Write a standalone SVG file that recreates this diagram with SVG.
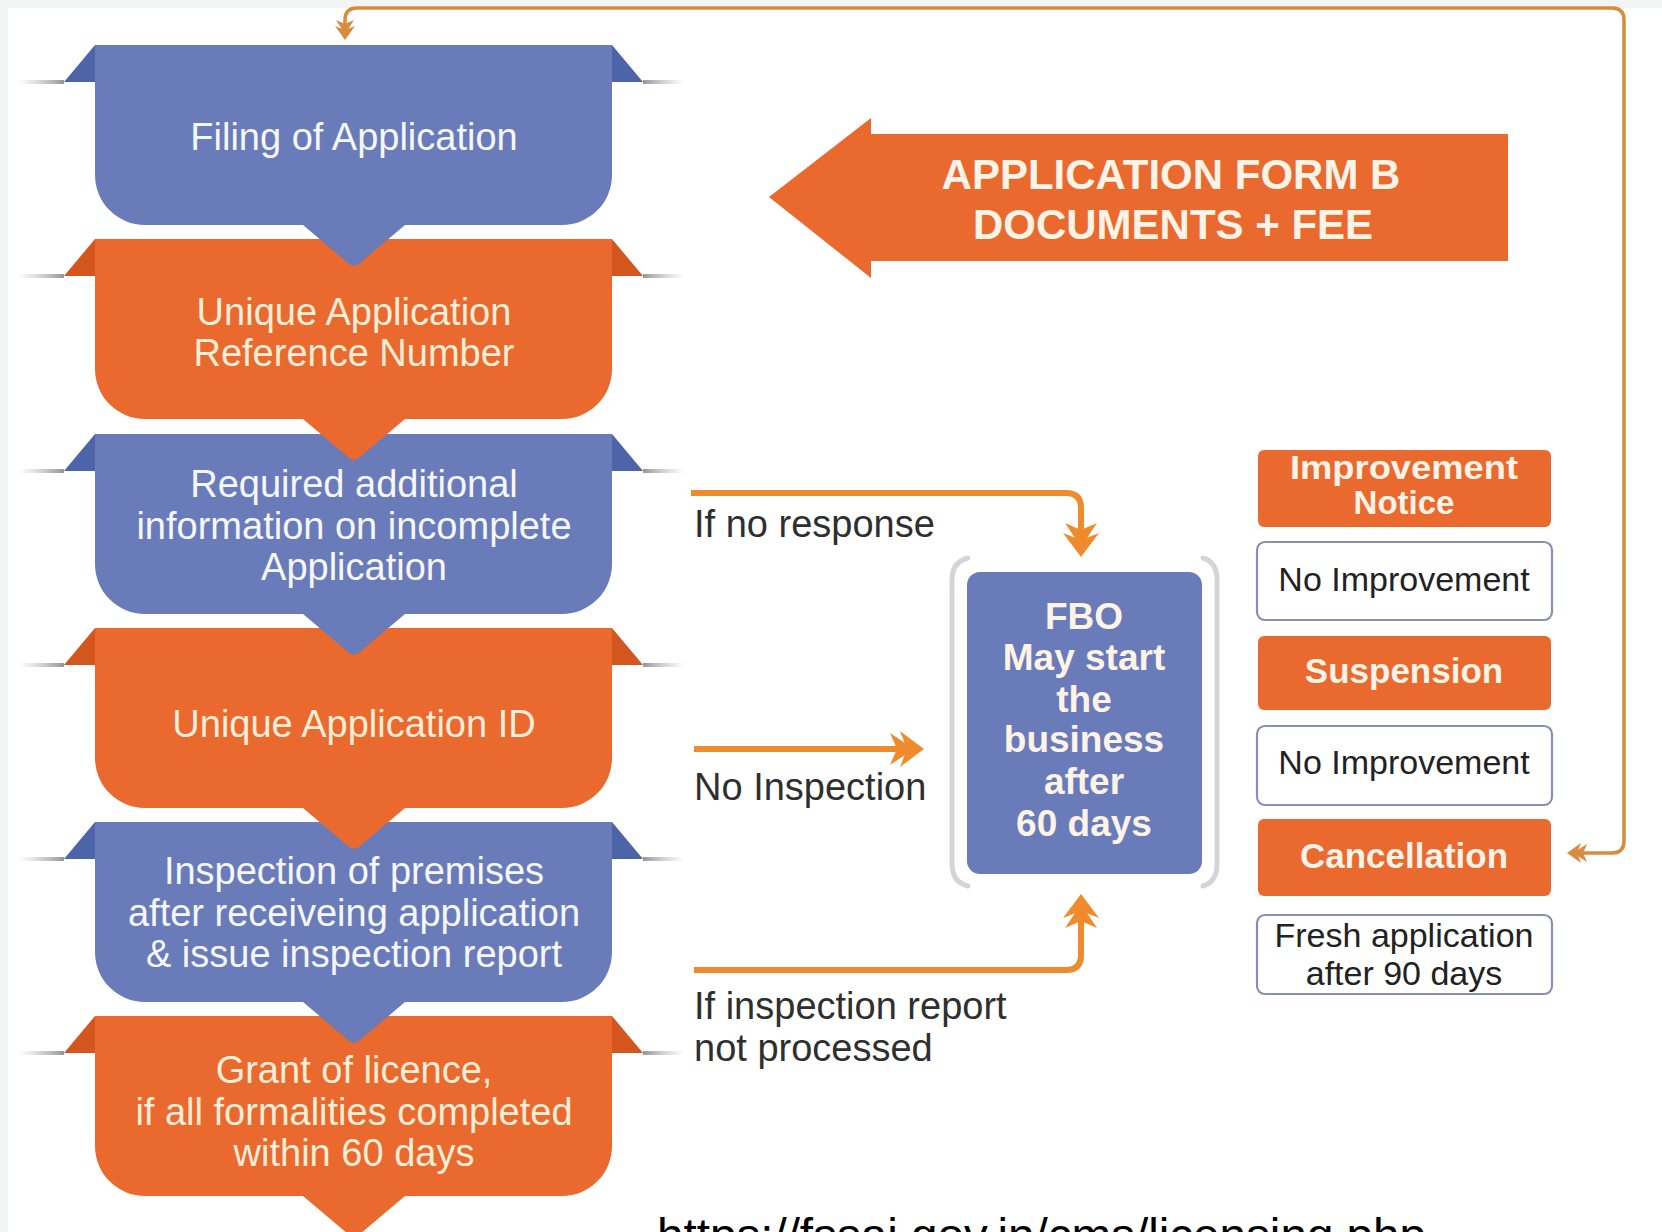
<svg xmlns="http://www.w3.org/2000/svg" xmlns:xlink="http://www.w3.org/1999/xlink" width="1662" height="1232" viewBox="0 0 1662 1232">
<style>
.bf{fill:#6a7bb9}.be{fill:#4e64a8}
.of{fill:#ea692e}.oe{fill:#d4561f}
.tb{font-family:"Liberation Sans",Arial,sans-serif;font-size:38px;fill:#f5f7fc;text-anchor:middle}
.to{font-family:"Liberation Sans",Arial,sans-serif;font-size:38px;fill:#fdeed8;text-anchor:middle}
.lbl{font-family:"Liberation Sans",Arial,sans-serif;font-size:38px;fill:#2f2f2f}
.bold{font-family:"Liberation Sans",Arial,sans-serif;font-weight:bold;fill:#fdf3e6;text-anchor:middle}
.box{fill:#ffffff;stroke:#8790b3;stroke-width:2.2}
.ob{fill:#ea692e}
.bt{font-family:"Liberation Sans",Arial,sans-serif;font-size:34px;fill:#222;text-anchor:middle}
.con{fill:none;stroke:#ef8b2d;stroke-width:6}
.loop{fill:none;stroke:#d88c3f;stroke-width:3.5}
.brk{fill:none;stroke:#d3d5da;stroke-width:5;stroke-linecap:round}
</style>
<defs>
<linearGradient id="shL" x1="0" x2="1" y1="0" y2="0"><stop offset="0" stop-color="#b0b0b0" stop-opacity="0"/><stop offset="1" stop-color="#8a8a8a" stop-opacity="0.9"/></linearGradient>
<linearGradient id="shR" x1="0" x2="1" y1="0" y2="0"><stop offset="0" stop-color="#8a8a8a" stop-opacity="0.9"/><stop offset="1" stop-color="#b0b0b0" stop-opacity="0"/></linearGradient>
<path id="body" d="M95,0 H612 V130 A50,50 0 0 1 562,180 H405 L360,218 Q354,224 348,218 L303,180 H145 A50,50 0 0 1 95,130 Z"/>
<path id="earL" d="M95,0 L64,37 H95 Z"/>
<path id="earR" d="M612,0 L643,37 H612 Z"/>
<g id="shadows"><rect x="18" y="35" width="46" height="4" fill="url(#shL)"/><rect x="643" y="35" width="42" height="4" fill="url(#shR)"/></g>
<marker id="arrL" markerUnits="userSpaceOnUse" viewBox="-36 -20 38 40" refX="-12" refY="0" markerWidth="38" markerHeight="40" orient="auto">
<path d="M-10,0 L-34,-16 L-27,0 L-34,16 Z" fill="#ef8b2d"/>
<path d="M0,0 L-24,-18 L-17,0 L-24,18 Z" fill="#ef8b2d"/>
</marker>
<marker id="arrS" markerUnits="userSpaceOnUse" viewBox="-24 -12 26 24" refX="-6" refY="0" markerWidth="26" markerHeight="24" orient="auto-start-reverse">
<path d="M-6,0 L-20,-9 L-16,0 L-20,9 Z" fill="#d88c3f"/>
<path d="M0,0 L-14,-10 L-10,0 L-14,10 Z" fill="#d88c3f"/>
</marker>
</defs>
<rect x="0" y="0" width="1662" height="1232" fill="#f3f4f6"/>
<rect x="8" y="8" width="1654" height="1224" fill="#ffffff"/>

<g id="step6" transform="translate(0,1016)">
<use href="#shadows"/><use href="#earL" class="oe"/><use href="#earR" class="oe"/><use href="#body" class="of"/>
<text class="to" x="354" y="67">Grant of licence,</text>
<text class="to" x="354" y="109">if all formalities completed</text>
<text class="to" x="354" y="150">within 60 days</text>
</g>
<g id="step5" transform="translate(0,822)">
<use href="#shadows"/><use href="#earL" class="be"/><use href="#earR" class="be"/><use href="#body" class="bf"/>
<text class="tb" x="354" y="62">Inspection of premises</text>
<text class="tb" x="354" y="104">after receiveing application</text>
<text class="tb" x="354" y="145">&amp; issue inspection report</text>
</g>
<g id="step4" transform="translate(0,628)">
<use href="#shadows"/><use href="#earL" class="oe"/><use href="#earR" class="oe"/><use href="#body" class="of"/>
<text class="to" x="354" y="109">Unique Application ID</text>
</g>
<g id="step3" transform="translate(0,434)">
<use href="#shadows"/><use href="#earL" class="be"/><use href="#earR" class="be"/><use href="#body" class="bf"/>
<text class="tb" x="354" y="63">Required additional</text>
<text class="tb" x="354" y="105">information on incomplete</text>
<text class="tb" x="354" y="146">Application</text>
</g>
<g id="step2" transform="translate(0,239)">
<use href="#shadows"/><use href="#earL" class="oe"/><use href="#earR" class="oe"/><use href="#body" class="of"/>
<text class="to" x="354" y="86">Unique Application</text>
<text class="to" x="354" y="127">Reference Number</text>
</g>
<g id="step1" transform="translate(0,45)">
<use href="#shadows"/><use href="#earL" class="be"/><use href="#earR" class="be"/><use href="#body" class="bf"/>
<text class="tb" x="354" y="105">Filing of Application</text>
</g>

<g id="form-arrow">
<polygon points="769,197 871,118 871,134 1508,134 1508,261 871,261 871,278" fill="#e9692f"/>
<text class="bold" x="1171" y="189" font-size="42">APPLICATION FORM B</text>
<text class="bold" x="1173" y="239" font-size="42">DOCUMENTS + FEE</text>
</g>

<g id="fbo">
<path class="brk" d="M968,558 Q952,562 952,580 V864 Q952,882 968,886"/>
<path class="brk" d="M1203,558 Q1217,562 1217,580 V864 Q1217,882 1203,886"/>
<rect x="967" y="572" width="235" height="302" rx="13" fill="#6a7bb9"/>
<text class="bold" x="1084" y="629" font-size="37" fill="#fff">FBO</text>
<text class="bold" x="1084" y="670" font-size="37">May start</text>
<text class="bold" x="1084" y="712" font-size="37">the</text>
<text class="bold" x="1084" y="752" font-size="37">business</text>
<text class="bold" x="1084" y="794" font-size="37">after</text>
<text class="bold" x="1084" y="836" font-size="37">60 days</text>
</g>

<g id="improvement-notice">
<rect class="ob" x="1258" y="450" width="293" height="77" rx="6"/>
<text class="bold" x="1404" y="479" font-size="33" textLength="228" lengthAdjust="spacingAndGlyphs">Improvement</text>
<text class="bold" x="1404" y="514" font-size="33">Notice</text>
</g>
<g id="no-improvement-1">
<rect class="box" x="1257" y="542" width="295" height="78" rx="8"/>
<text class="bt" x="1404" y="591">No Improvement</text>
</g>
<g id="suspension">
<rect class="ob" x="1258" y="636" width="293" height="74" rx="6"/>
<text class="bold" x="1404" y="683" font-size="35">Suspension</text>
</g>
<g id="no-improvement-2">
<rect class="box" x="1257" y="726" width="295" height="79" rx="8"/>
<text class="bt" x="1404" y="774">No Improvement</text>
</g>
<g id="cancellation">
<rect class="ob" x="1258" y="819" width="293" height="77" rx="6"/>
<text class="bold" x="1404" y="868" font-size="35">Cancellation</text>
</g>
<g id="fresh-application">
<rect class="box" x="1257" y="915" width="295" height="79" rx="8"/>
<text class="bt" x="1404" y="947">Fresh application</text>
<text class="bt" x="1404" y="985">after 90 days</text>
</g>

<g id="connectors">
<path class="con" d="M691,493 H1066 Q1081,493 1081,508 V545" marker-end="url(#arrL)"/>
<path class="con" d="M694,749 H912" marker-end="url(#arrL)"/>
<path class="con" d="M694,970 H1066 Q1081,970 1081,955 V906" marker-end="url(#arrL)"/>
<path class="loop" d="M1573,853 H1612 Q1624,853 1624,841 V20 Q1624,8 1612,8 H357 Q345,8 345,20 V34" marker-start="url(#arrS)" marker-end="url(#arrS)"/>
</g>

<g id="labels">
<text class="lbl" x="694" y="537">If no response</text>
<text class="lbl" x="694" y="800">No Inspection</text>
<text class="lbl" x="694" y="1019">If inspection report</text>
<text class="lbl" x="694" y="1061">not processed</text>
<text x="657" y="1251" font-family="Liberation Sans, Arial, sans-serif" font-size="46" fill="#000" textLength="769" lengthAdjust="spacingAndGlyphs">https://fssai.gov.in/cms/licensing.php</text>
</g>
</svg>
